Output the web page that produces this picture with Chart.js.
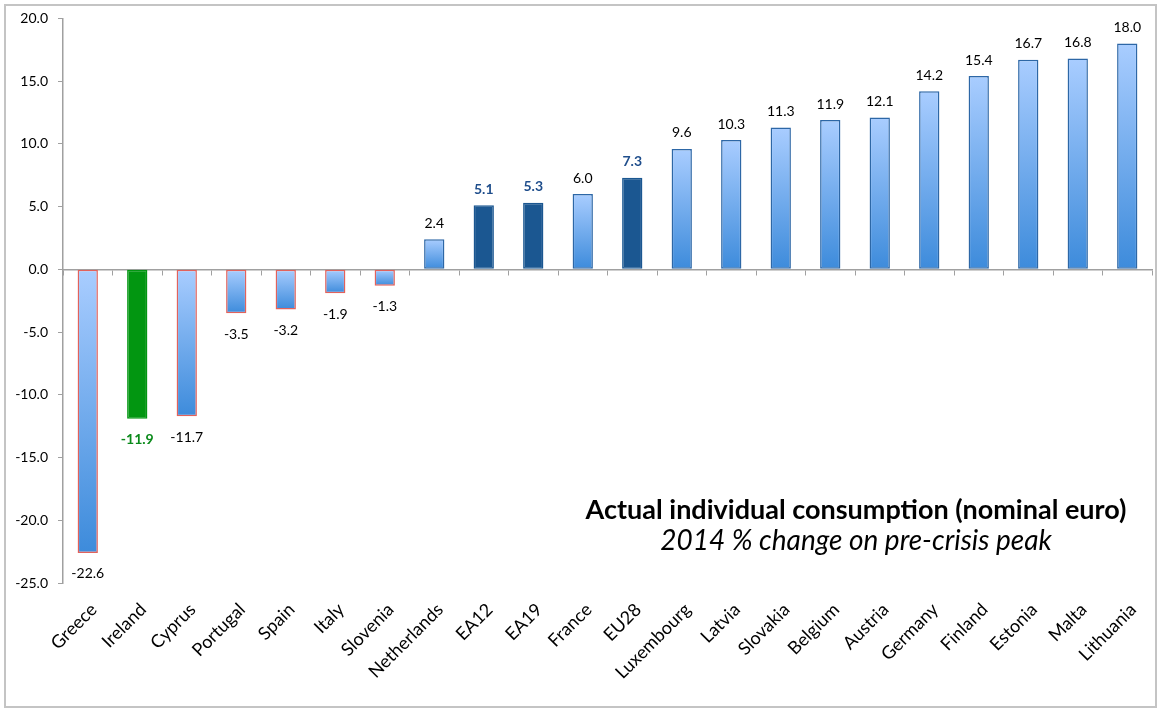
<!DOCTYPE html>
<html lang="en">
<head>
  <meta charset="UTF-8">
  <title>Actual individual consumption</title>
  <script src="https://cdn.jsdelivr.net/npm/chart.js"></script>
  <style>
    body { margin: 0; background: #fff; }
    #wrap { position: relative; width: 1162px; height: 713px; }
    #frame { position: absolute; left: 4px; top: 4px; width: 1149px; height: 700px; border: 2px solid #c4c4c4; }
    #myChart { position: absolute; left: 0; top: 0; }
  </style>
</head>
<body>
  <div id="wrap">
    <div id="frame"></div>
    <canvas id="myChart" width="1162" height="713"></canvas>
  </div>

  <script>
    const categories = ['Greece', 'Ireland', 'Cyprus', 'Portugal', 'Spain', 'Italy', 'Slovenia', 'Netherlands',
      'EA12', 'EA19', 'France', 'EU28', 'Luxembourg', 'Latvia', 'Slovakia', 'Belgium', 'Austria',
      'Germany', 'Finland', 'Estonia', 'Malta', 'Lithuania'];
    const values = [-22.6, -11.9, -11.7, -3.5, -3.2, -1.9, -1.3, 2.4, 5.1, 5.3, 6.0, 7.3, 9.6, 10.3,
      11.3, 11.9, 12.1, 14.2, 15.4, 16.7, 16.8, 18.0];
    const aggregates = ['EA12', 'EA19', 'EU28']; // euro area / EU averages, dark bars
    const featured = 'Ireland'; // the green one
    const yTicks = [-25, -20, -15, -10, -5, 0, 5, 10, 15, 20];

    const titleText = 'Actual individual consumption (nominal euro)';
    const subtitleText = '2014 % change on pre-crisis peak';

    Chart.defaults.font.family = 'Lato';
    Chart.defaults.color = '#000';

    function barFill(c) {
      const cat = categories[c.dataIndex];
      if (aggregates.includes(cat)) return '#1b5791';
      if (cat === featured) return '#029611';
      const chart = c.chart;
      const y = chart.scales.y;
      if (!chart.chartArea || !y) return '#7fb2ee';
      const v = values[c.dataIndex];
      const top = y.getPixelForValue(Math.max(v, 0));
      const bot = y.getPixelForValue(Math.min(v, 0));
      const g = chart.ctx.createLinearGradient(0, top, 0, bot);
      g.addColorStop(0, '#a9cdff');
      g.addColorStop(1, '#3d8bdb');
      return g;
    }

    function barBorder(c) {
      const cat = categories[c.dataIndex];
      if (aggregates.includes(cat)) return '#1b5791';
      if (cat === featured) return '#029611';
      return values[c.dataIndex] < 0 ? '#e2625c' : '#2d67a6';
    }

    // value labels above / below each bar
    const valueLabels = {
      id: 'valueLabels',
      afterDatasetsDraw(chart) {
        const ctx = chart.ctx;
        const meta = chart.getDatasetMeta(0);
        ctx.save();
        ctx.textAlign = 'center';
        ctx.textBaseline = 'middle';
        meta.data.forEach((bar, i) => {
          const v = values[i];
          const cat = categories[i];
          let color = '#000', weight = 'normal';
          if (aggregates.includes(cat)) { color = '#1f4e8c'; weight = 'bold'; }
          if (cat === featured) { color = '#0a8a1a'; weight = 'bold'; }
          ctx.fillStyle = color;
          ctx.font = weight + ' 14px Lato';
          const y = v >= 0 ? bar.y - 16 : bar.y + 21;
          ctx.fillText(v.toFixed(1), bar.x, y);
        });
        ctx.restore();
      }
    };

    const chartTitle = {
      id: 'chartTitle',
      afterDraw(chart) {
        const ctx = chart.ctx;
        ctx.save();
        ctx.textAlign = 'center';
        ctx.textBaseline = 'alphabetic';
        ctx.fillStyle = '#000';
        ctx.font = 'bold 27px Lato';
        ctx.fillText(titleText, 856, 519);
        ctx.font = 'italic 28px Lato';
        ctx.fillText(subtitleText, 856, 550);
        ctx.restore();
      }
    };

    const config = {
      type: 'bar',
      data: {
        labels: categories,
        datasets: [{
          data: values,
          backgroundColor: barFill,
          borderColor: barBorder,
          borderWidth: 1.5,
          borderSkipped: false,
          barPercentage: 0.41,
          categoryPercentage: 1
        }]
      },
      options: {
        responsive: false,
        animation: false,
        layout: { padding: { left: 0, top: 12, right: 10, bottom: 0 } },
        plugins: { legend: { display: false }, tooltip: { enabled: false } },
        scales: {
          x: {
            grid: { display: false },
            border: { display: false },
            ticks: { autoSkip: false, minRotation: 45, maxRotation: 45, padding: 8, labelOffset: 6, font: { size: 18 } },
            afterFit: s => { s.height = 130; }
          },
          // zero line with the small category ticks
          x2: {
            axis: 'x',
            type: 'category',
            labels: categories,
            position: { y: 0 },
            offset: true,
            grid: { drawOnChartArea: false, offset: true, tickLength: 5, color: '#a0a0a0' },
            border: { color: '#a0a0a0', width: 1.5 },
            ticks: { display: false }
          },
          y: {
            min: -25,
            max: 20,
            afterBuildTicks: s => { s.ticks = yTicks.map(v => ({ value: v })); },
            ticks: { padding: 10, font: { size: 14 }, callback: v => Number(v).toFixed(1) },
            grid: { drawOnChartArea: false, tickLength: 5, color: '#a0a0a0' },
            border: { color: '#a0a0a0', width: 1.5 },
            afterFit: s => { s.width = 63; }
          }
        }
      },
      plugins: [valueLabels, chartTitle]
    };

    const myChart = new Chart(document.getElementById('myChart'), config);
    myChart.update(); // redo fills once the scales exist
  </script>
</body>
</html>
